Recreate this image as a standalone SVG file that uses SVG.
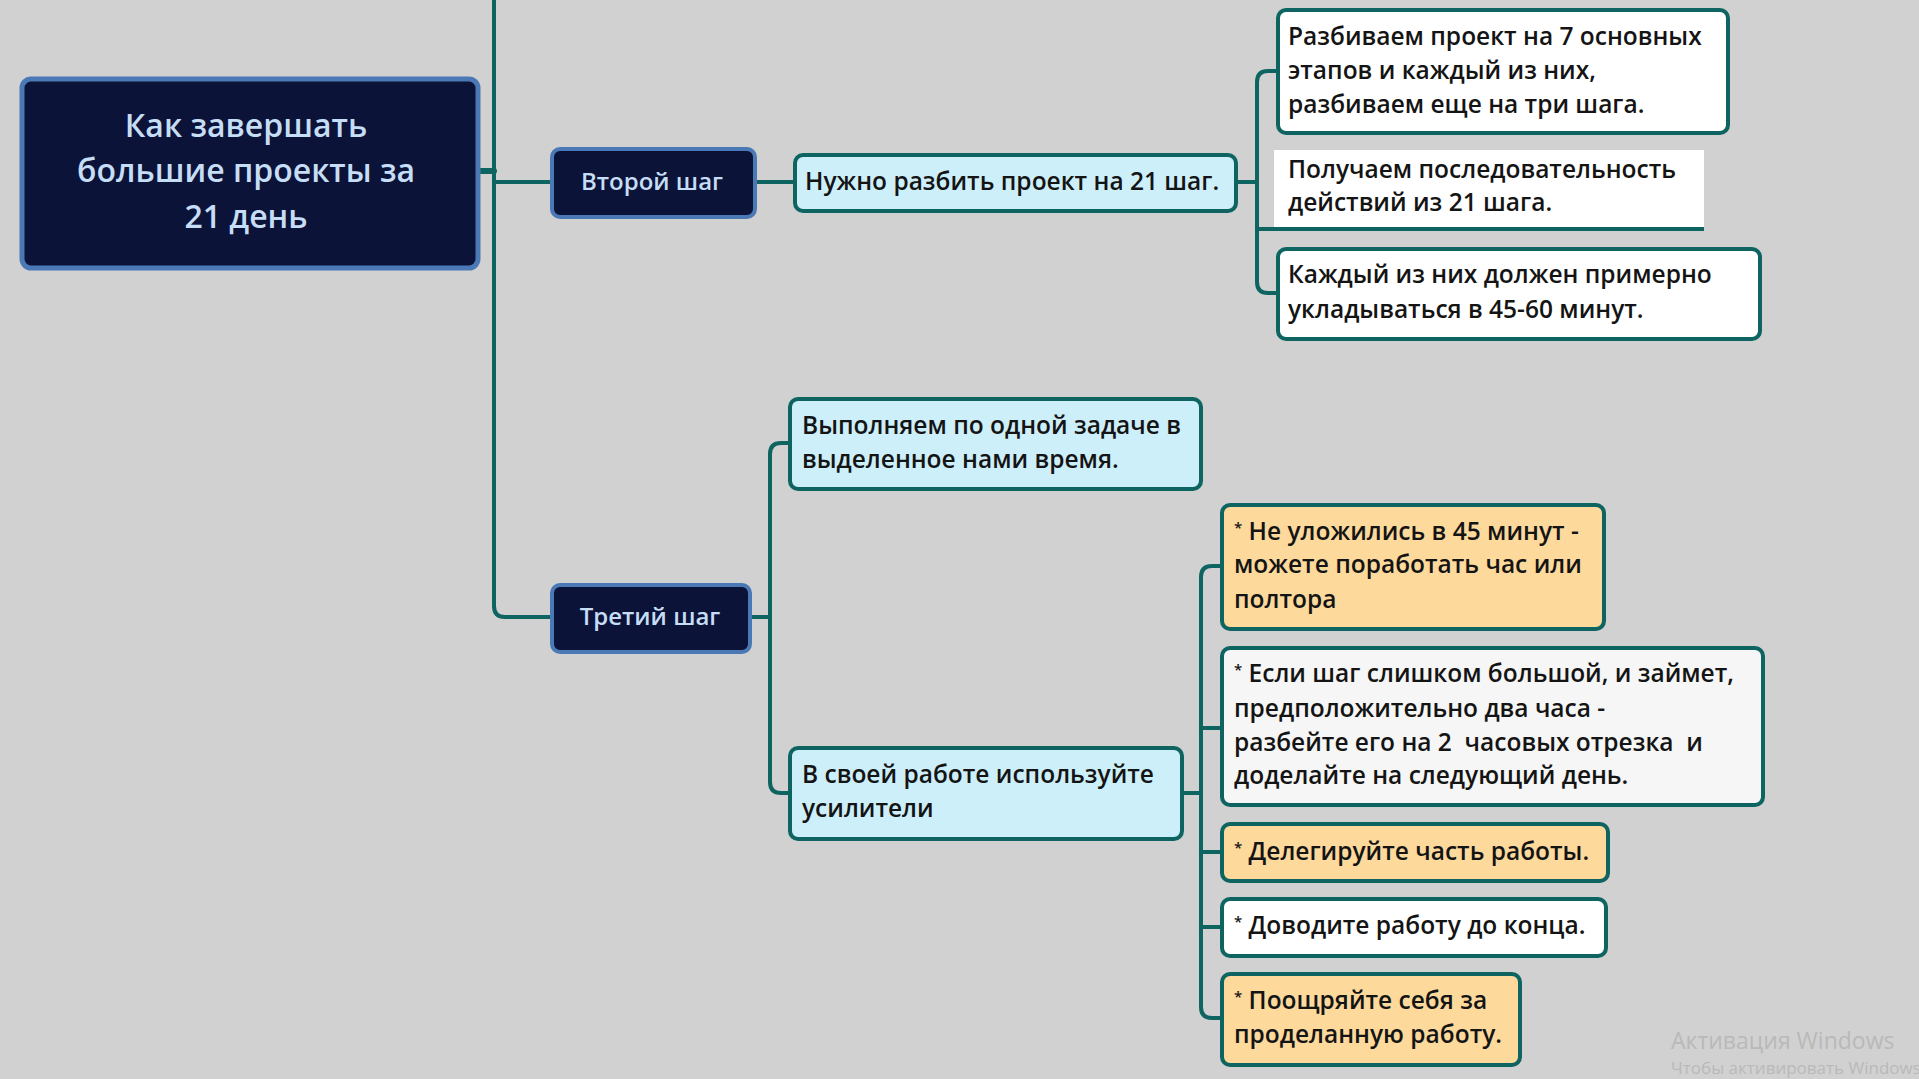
<svg xmlns="http://www.w3.org/2000/svg" width="1919" height="1079" viewBox="0 0 1919 1079">
<style>
.bg{fill:#d1d1d1}
.con{fill:none;stroke:#0e6461;stroke-width:4;stroke-linecap:round;stroke-linejoin:round}
.main{fill:#0c1338;stroke:#4b79b6;stroke-width:5}
.mt{font-family:"Open Sans","Noto Sans",sans-serif;font-weight:600;fill:#c6ddf6;text-anchor:middle}
.cyan{fill:#cdeffa;stroke:#0e6461;stroke-width:4}
.white{fill:#ffffff;stroke:#0e6461;stroke-width:4}
.grey{fill:#f6f6f6;stroke:#0e6461;stroke-width:4}
.orange{fill:#fdd99c;stroke:#0e6461;stroke-width:4}
.t{font-family:"Open Sans","Noto Sans",sans-serif;font-weight:600;font-size:24.5px;fill:#141414;white-space:pre}
.ast{font-size:15px}
.wm{font-family:"Open Sans","Noto Sans",sans-serif;fill:#b9b9b9}
</style>
<rect class="bg" x="0" y="0" width="1919" height="1079"/>
<g id="connectors">
<path class="con" d="M494,-5 V606 Q494,617 505,617 H551"/>
<path class="con" d="M479,171 H494" style="stroke-width:6"/>
<path class="con" d="M494,182 H551"/>
<path class="con" d="M756,182 H794"/>
<path class="con" d="M1236,182 H1257"/>
<path class="con" d="M1277,71 H1268 Q1257,71 1257,82 V282 Q1257,293 1268,293 H1277"/>
<path class="con" d="M1257,229 H1274"/>
<path class="con" d="M751,617 H770"/>
<path class="con" d="M789,443 H781 Q770,443 770,454 V782 Q770,793 781,793 H789"/>
<path class="con" d="M1183,793 H1201"/>
<path class="con" d="M1221,566 H1212 Q1201,566 1201,577 V1007 Q1201,1018 1212,1018 H1221"/>
<path class="con" d="M1201,728 H1221"/>
<path class="con" d="M1201,852 H1221"/>
<path class="con" d="M1201,927 H1221"/>
</g>
<g id="root">
<rect class="main" x="22" y="79" width="456" height="189" rx="9"/>
<text class="mt" font-size="32" x="246"><tspan x="246" y="137">Как завершать</tspan><tspan x="246" y="182">большие проекты за</tspan><tspan x="246" y="228">21 день</tspan></text>
</g>
<g id="step2">
<rect class="main" x="552" y="149" width="203" height="68" rx="8" style="stroke-width:4"/>
<text class="mt" font-size="24" x="652" y="190">Второй шаг</text>
</g>
<g id="step3">
<rect class="main" x="552" y="585" width="198" height="67" rx="8" style="stroke-width:4"/>
<text class="mt" font-size="24" x="650" y="625">Третий шаг</text>
</g>
<g id="split21">
<rect class="cyan" x="795" y="155" width="441" height="56" rx="8"/>
<text class="t" x="805" y="190">Нужно разбить проект на 21 шаг.</text>
</g>
<g id="stages7">
<rect class="white" x="1278" y="10" width="450" height="123" rx="8"/>
<text class="t"><tspan x="1288" y="45">Разбиваем проект на 7 основных</tspan><tspan x="1288" y="79">этапов и каждый из них,</tspan><tspan x="1288" y="113">разбиваем еще на три шага.</tspan></text>
</g>
<g id="sequence">
<rect x="1274" y="150" width="430" height="79" fill="#ffffff"/>
<path d="M1257,229 H1704" fill="none" stroke="#0e6461" stroke-width="4"/>
<text class="t"><tspan x="1288" y="178">Получаем последовательность</tspan><tspan x="1288" y="211">действий из 21 шага.</tspan></text>
</g>
<g id="minutes">
<rect class="white" x="1278" y="249" width="482" height="90" rx="8"/>
<text class="t"><tspan x="1288" y="283">Каждый из них должен примерно</tspan><tspan x="1288" y="318">укладываться в 45-60 минут.</tspan></text>
</g>
<g id="onetask">
<rect class="cyan" x="790" y="399" width="411" height="90" rx="8"/>
<text class="t"><tspan x="802" y="434">Выполняем по одной задаче в</tspan><tspan x="802" y="468">выделенное нами время.</tspan></text>
</g>
<g id="boosters">
<rect class="cyan" x="790" y="748" width="392" height="91" rx="8"/>
<text class="t"><tspan x="802" y="783">В своей работе используйте</tspan><tspan x="802" y="817">усилители</tspan></text>
</g>
<g id="b1">
<rect class="orange" x="1222" y="505" width="382" height="124" rx="8"/>
<text class="t"><tspan x="1234" y="540"><tspan class="ast" dy="-7">*</tspan><tspan dy="7"> Не уложились в 45 минут -</tspan></tspan><tspan x="1234" y="573">можете поработать час или</tspan><tspan x="1234" y="608">полтора</tspan></text>
</g>
<g id="b2">
<rect class="grey" x="1222" y="648" width="541" height="157" rx="8"/>
<text class="t"><tspan x="1234" y="682"><tspan class="ast" dy="-7">*</tspan><tspan dy="7"> Если шаг слишком большой, и займет,</tspan></tspan><tspan x="1234" y="717">предположительно два часа -</tspan><tspan x="1234" y="751">разбейте его на 2  часовых отрезка  и</tspan><tspan x="1234" y="784">доделайте на следующий день.</tspan></text>
</g>
<g id="b3">
<rect class="orange" x="1222" y="824" width="386" height="57" rx="8"/>
<text class="t" x="1234" y="860"><tspan class="ast" dy="-7">*</tspan><tspan dy="7"> Делегируйте часть работы.</tspan></text>
</g>
<g id="b4">
<rect class="white" x="1222" y="899" width="384" height="57" rx="8"/>
<text class="t" x="1234" y="934"><tspan class="ast" dy="-7">*</tspan><tspan dy="7"> Доводите работу до конца.</tspan></text>
</g>
<g id="b5">
<rect class="orange" x="1222" y="974" width="298" height="91" rx="8"/>
<text class="t"><tspan x="1234" y="1009"><tspan class="ast" dy="-7">*</tspan><tspan dy="7"> Поощряйте себя за</tspan></tspan><tspan x="1234" y="1043">проделанную работу.</tspan></text>
</g>
<text class="wm" font-size="23" x="1671" y="1049">Активация Windows</text>
<text class="wm" font-size="17" x="1671" y="1074">Чтобы активировать Windows</text>
</svg>
